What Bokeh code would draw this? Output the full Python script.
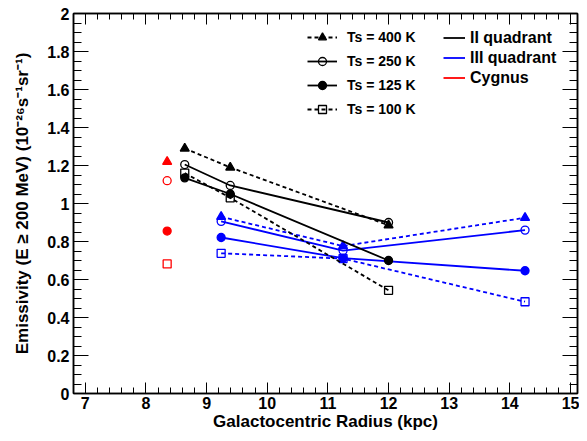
import numpy as np
from bokeh.plotting import figure
from bokeh.models import (Range1d, LinearAxis, FixedTicker, Legend, LegendItem,
                          CustomJSTickFormatter)
from bokeh.embed import file_html
from bokeh.resources import INLINE

# ---- data ----
x_ticks = [7, 8, 9, 10, 11, 12, 13, 14, 15]
y_ticks = [0, 0.2, 0.4, 0.6, 0.8, 1, 1.2, 1.4, 1.6, 1.8, 2]
y_tick_labels = ["0", "0.2", "0.4", "0.6", "0.8", "1", "1.2", "1.4", "1.6", "1.8", "2"]

x_title = "Galactocentric Radius (kpc)"
y_title = "Emissivity (E \u2265 200 MeV) (10\u207b\u00b2\u2076s\u207b\u00b9sr\u207b\u00b9)"

temps = ["Ts = 400 K", "Ts = 250 K", "Ts = 125 K", "Ts = 100 K"]
regions = ["II quadrant", "III quadrant", "Cygnus"]

r_q2 = [8.64, 9.39, 12.0]
q2_400 = [1.29, 1.19, 0.885]
q2_250 = [1.205, 1.095, 0.90]
q2_125 = [1.135, 1.05, 0.70]
q2_100 = [1.16, 1.03, 0.543]

r_q3 = [9.24, 11.25, 14.25]
q3_400 = [0.93, 0.776, 0.925]
q3_250 = [0.906, 0.752, 0.86]
q3_125 = [0.821, 0.712, 0.646]
q3_100 = [0.738, 0.71, 0.483]

r_cyg = [8.35]
cyg_400 = [1.22]
cyg_250 = [1.12]
cyg_125 = [0.855]
cyg_100 = [0.682]

# ---- styles ----
FONT = "Liberation Sans"
marker_of = ["triangle", "circle", "circle", "square"]
filled_of = [True, False, True, False]
dash_of = ["4 3", "solid", "solid", "4 3"]
size_of = [9, 8, 8, 8]

p = figure(width=579, height=433, x_range=Range1d(6.806, 15.115), y_range=Range1d(0, 2),
           output_backend="svg", toolbar_location=None,
           min_border_left=73, min_border_right=2, min_border_top=13, min_border_bottom=0)
p.xgrid.visible = False
p.ygrid.visible = False
p.outline_line_color = "black"
p.outline_line_width = 1.5
p.background_fill_color = "white"
p.border_fill_color = "white"

x_minor = list(np.round(np.arange(6.8, 15.21, 0.2), 2))
y_minor = list(np.round(np.arange(0, 2.001, 0.05), 3))
xt = FixedTicker(ticks=x_ticks, minor_ticks=x_minor)
yt = FixedTicker(ticks=y_ticks, minor_ticks=y_minor)


def style_axis(ax, major_in, minor_in):
    ax.major_tick_in = major_in
    ax.major_tick_out = 0
    ax.minor_tick_in = minor_in
    ax.minor_tick_out = 0
    ax.major_tick_line_color = "black"
    ax.minor_tick_line_color = "black"
    ax.major_tick_line_width = 1
    ax.minor_tick_line_width = 1
    ax.axis_line_color = "black"
    ax.axis_line_width = 1.5
    ax.major_label_text_font = FONT
    ax.major_label_text_font_style = "bold"
    ax.major_label_text_font_size = "16px"
    ax.major_label_text_color = "black"
    ax.axis_label_text_font = FONT
    ax.axis_label_text_font_style = "bold"
    ax.axis_label_text_font_size = "17px"
    ax.axis_label_text_color = "black"


xa = p.below[0]
xa.ticker = xt
style_axis(xa, 11, 6)
xa.major_label_standoff = 3
xa.axis_label = x_title
xa.axis_label_standoff = 0

ya = p.left[0]
ya.ticker = yt
style_axis(ya, 15, 8)
ya.major_label_overrides = {t: s for t, s in zip(y_ticks, y_tick_labels)}
ya.major_label_standoff = 4
ya.axis_label = y_title
ya.axis_label_standoff = 12

blank = CustomJSTickFormatter(code="return ''")
top = LinearAxis(ticker=xt, formatter=blank)
style_axis(top, 11, 6)
top.major_label_text_font_size = "0px"
top.major_label_standoff = 0
p.add_layout(top, "above")

right = LinearAxis(ticker=yt, formatter=blank)
style_axis(right, 15, 8)
right.major_label_text_font_size = "0px"
right.major_label_standoff = 0
p.add_layout(right, "right")


def draw(xs, ys, color, i, with_line=True):
    ln = None
    if with_line:
        ln = p.line(xs, ys, line_color=color, line_width=1.8, line_dash=dash_of[i])
    mk = p.scatter(xs, ys, marker=marker_of[i], size=size_of[i], line_color=color,
                   line_width=1.3, fill_color=color if filled_of[i] else None)
    return ln, mk


q3_series = [q3_400, q3_250, q3_125, q3_100]
q2_series = [q2_400, q2_250, q2_125, q2_100]
cyg_series = [cyg_400, cyg_250, cyg_125, cyg_100]

q3_r = [draw(r_q3, ys, "blue", i) for i, ys in enumerate(q3_series)]
q2_r = [draw(r_q2, ys, "black", i) for i, ys in enumerate(q2_series)]
cyg_r = [draw(r_cyg, ys, "red", i, with_line=False) for i, ys in enumerate(cyg_series)]

# single-point line: draws nothing in the plot, gives the legend its red swatch
cyg_line = p.line(r_cyg, cyg_400, line_color="red", line_width=1.8)

leg1 = Legend(items=[LegendItem(label=temps[i], renderers=[q2_r[i][0], q2_r[i][1]])
                     for i in range(4)],
              location=(234, 274))
leg1.glyph_width = 30
leg1.glyph_height = 20
leg1.label_height = 20
leg1.spacing = 4
leg1.label_standoff = 10
leg1.label_text_font = FONT
leg1.label_text_font_style = "bold"
leg1.label_text_font_size = "14px"

leg2 = Legend(items=[LegendItem(label=regions[0], renderers=[q2_r[1][0]]),
                     LegendItem(label=regions[1], renderers=[q3_r[1][0]]),
                     LegendItem(label=regions[2], renderers=[cyg_line])],
              location=(370, 306))
leg2.glyph_width = 22
leg2.glyph_height = 19
leg2.label_height = 19
leg2.spacing = 1
leg2.label_standoff = 5
leg2.label_text_font = FONT
leg2.label_text_font_style = "bold"
leg2.label_text_font_size = "16px"

for lg in (leg1, leg2):
    lg.background_fill_alpha = 0
    lg.border_line_alpha = 0
    lg.padding = 0
    lg.margin = 0
    lg.label_text_color = "black"
    p.add_layout(lg)

open("out.html", "w").write(file_html(p, INLINE))
